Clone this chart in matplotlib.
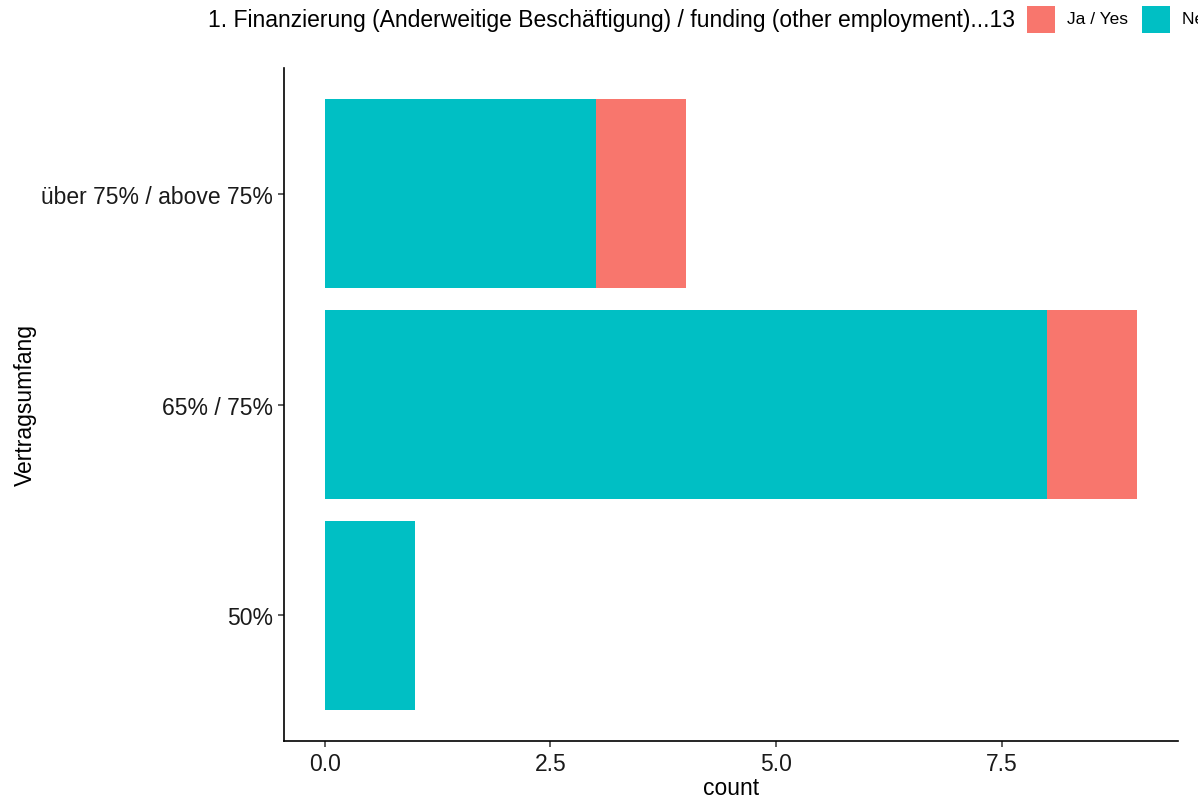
import matplotlib.pyplot as plt
from matplotlib.patches import Rectangle

plt.rcParams['font.family'] = ['Liberation Sans', 'DejaVu Sans']

categories = ['50%', '65% / 75%', 'über 75% / above 75%']
nein = [1, 8, 3]
ja = [0, 1, 1]
legend_title = '1. Finanzierung (Anderweitige Beschäftigung) / funding (other employment)...13'
legend_labels = ['Ja / Yes', 'Nein / No']
colors = ['#F8766D', '#00BFC4']

W, H = 1198, 803
fig = plt.figure(figsize=(W / 100, H / 100), dpi=100)
ax = fig.add_axes([284 / W, 1 - 742 / H, (1178 - 284) / W, (742 - 69) / H])

pos = list(range(1, len(categories) + 1))
ax.barh(pos, nein, height=0.9, color=colors[1], linewidth=0)
ax.barh(pos, ja, left=nein, height=0.9, color=colors[0], linewidth=0)

ax.set_xlim(-0.45, 9.45)
ax.set_ylim(0.405, 3.595)
ax.set_yticks(pos)
ax.set_yticklabels(categories)
ax.set_xticks([0, 2.5, 5.0, 7.5])
ax.set_xticklabels(['0.0', '2.5', '5.0', '7.5'])
ax.tick_params(labelsize=16.5, length=4, width=1.1, colors='#333333', labelcolor='#1a1a1a', pad=4)
for s in ['top', 'right']:
    ax.spines[s].set_visible(False)
for s in ['left', 'bottom']:
    ax.spines[s].set_linewidth(1.2)
ax.set_xlabel('count', fontsize=16.5, labelpad=1)
ax.set_ylabel('Vertragsumfang', fontsize=16.5, labelpad=3)

# legend along the top, cut by the right edge like the original
fig.text(1015 / W, 1 - 20 / H, legend_title, fontsize=16.5, ha='right', va='center')
keys_x = [1027, 1142]
for kx, c, lab in zip(keys_x, colors, legend_labels):
    fig.patches.append(Rectangle((kx / W, 1 - 34 / H), 28 / W, 27 / H,
                                 transform=fig.transFigure, color=c, linewidth=0))
    fig.text((kx + 40) / W, 1 - 20 / H, lab, fontsize=12.5, ha='left', va='center')

fig.savefig('out.png', dpi=100)
